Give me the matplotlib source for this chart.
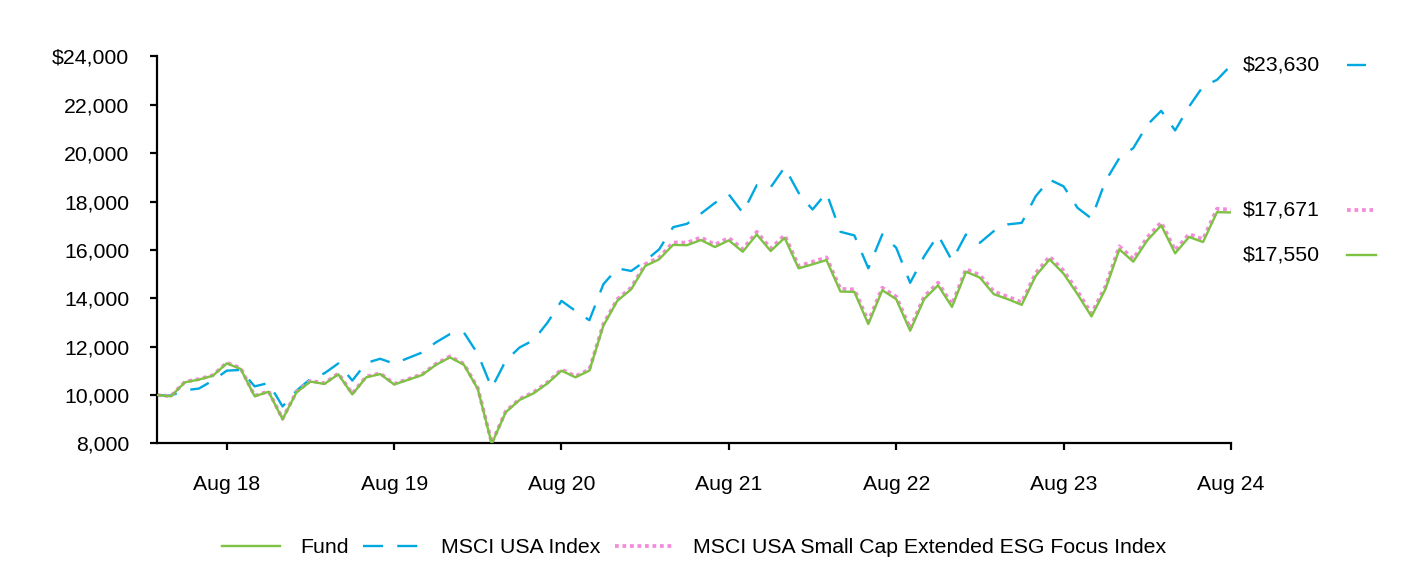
import numpy as np
import pandas as pd
import matplotlib
matplotlib.use("Agg")
import matplotlib.pyplot as plt

plt.rcParams['font.family'] = ['Liberation Sans', 'DejaVu Sans']

# Growth of $10,000, monthly from Mar 2018 to Aug 2024
months = pd.date_range('2018-03-01', '2024-08-01', freq='MS')

fund = [10000, 9950, 10530, 10640, 10800, 11310, 11080, 9950, 10140, 9000,
        10115, 10560, 10460, 10860, 10030, 10735, 10870, 10440, 10630, 10830,
        11250, 11560, 11255, 10255, 7990, 9290, 9800, 10075, 10485, 11010,
        10735, 11010, 12865, 13895, 14375, 15335, 15610, 16210, 16195, 16410,
        16120, 16395, 15925, 16640, 15955, 16500, 15240, 15405, 15580, 14280,
        14265, 12935, 14335, 13965, 12660, 13965, 14540, 13645, 15100, 14855,
        14170, 13965, 13730, 14925, 15610, 15020, 14170, 13250, 14375, 16025,
        15515, 16395, 17015, 15860, 16535, 16325, 17560, 17550]

msci_usa = [10000, 9980, 10200, 10270, 10600, 11010, 11040, 10360, 10500, 9530,
            10185, 10670, 10900, 11310, 10600, 11330, 11500, 11300, 11530, 11760,
            12180, 12520, 12590, 11700, 10295, 11420, 11970, 12270, 13000, 13895,
            13480, 13095, 14580, 15240, 15130, 15540, 16025, 16940, 17080, 17500,
            17945, 18290, 17535, 18675, 18590, 19415, 18360, 17670, 18360, 16750,
            16600, 15240, 16640, 16090, 14640, 15735, 16615, 15560, 16640, 16295,
            16780, 17055, 17120, 18220, 18905, 18630, 17740, 17300, 18840, 19800,
            20210, 21170, 21750, 20940, 21930, 22760, 23030, 23630]

msci_esg = [10000, 9960, 10550, 10660, 10820, 11340, 11110, 9970, 10160, 9020,
            10140, 10590, 10490, 10890, 10060, 10770, 10900, 10470, 10660, 10860,
            11290, 11600, 11290, 10290, 8020, 9330, 9840, 10120, 10530, 11060,
            10780, 11060, 12930, 13960, 14450, 15410, 15690, 16310, 16300, 16520,
            16220, 16500, 16030, 16750, 16060, 16610, 15340, 15510, 15690, 14390,
            14370, 13040, 14440, 14070, 12760, 14070, 14650, 13750, 15210, 14960,
            14280, 14070, 13840, 15040, 15730, 15140, 14290, 13370, 14490, 16150,
            15630, 16520, 17140, 15980, 16660, 16440, 17700, 17671]

names = ['Fund', 'MSCI USA Index', 'MSCI USA Small Cap Extended ESG Focus Index']
end_labels = ['$17,550', '$23,630', '$17,671']
yticks = [8000, 10000, 12000, 14000, 16000, 18000, 20000, 22000, 24000]

GREEN = '#7DC242'
BLUE = '#00A8E1'
PINK = '#F38BD9'
FS = 15.3

fig = plt.figure(figsize=(14.16, 5.64), dpi=100)
ax = fig.add_axes([0.1109, 0.2137, 0.7584, 0.6863])

x = np.arange(len(months))
ax.plot(x, msci_usa, color=BLUE, lw=1.7, linestyle=(0, (8.5, 6)), label=names[1])
ax.plot(x, msci_esg, color=PINK, lw=2.7, linestyle=(0, (1, 1)), label=names[2])
ax.plot(x, fund, color=GREEN, lw=1.7, label=names[0], zorder=3)

ax.set_xlim(0, len(x) - 1)
ax.set_ylim(8000, 24000)

aug = [i for i, d in enumerate(months) if d.month == 8]
ax.set_xticks(aug)
ax.set_xticklabels([months[i].strftime('Aug %y') for i in aug], fontsize=FS)
ax.set_yticks(yticks)
ax.set_yticklabels([('$' if v == yticks[-1] else '') + f'{v:,}' for v in yticks],
                   fontsize=FS)

for s in ['top', 'right']:
    ax.spines[s].set_visible(False)
for s in ['left', 'bottom']:
    ax.spines[s].set_linewidth(1.6)
ax.tick_params(axis='x', length=5, width=1.6, pad=18)
ax.tick_params(axis='y', length=5, width=1.6, pad=15)

# end-of-period value labels with line keys
last = len(x) - 1
ends = [
    (msci_usa[-1], end_labels[1], BLUE, (0, (8.5, 6)), 1.7, 9.7),
    (msci_esg[-1], end_labels[2], PINK, (0, (1, 1)), 2.7, 10.2),
    (fund[-1] - 1760, end_labels[0], GREEN, '-', 1.7, 10.4),
]
for ypos, txt, col, ls, lw, x2 in ends:
    ax.text(last + 0.85, ypos, txt, fontsize=FS, va='center', ha='left', clip_on=False)
    ax.plot([last + 8.3, last + x2], [ypos, ypos], color=col, lw=lw, linestyle=ls,
            clip_on=False)

h, l = ax.get_legend_handles_labels()
order = [2, 0, 1]
ax.legend([h[i] for i in order], [l[i] for i in order], loc='center',
          bbox_to_anchor=(0.5, -0.27), ncol=3, frameon=False, fontsize=FS,
          handlelength=2.7, handletextpad=0.95, columnspacing=0.7)

plt.savefig('out.png', dpi=100)
